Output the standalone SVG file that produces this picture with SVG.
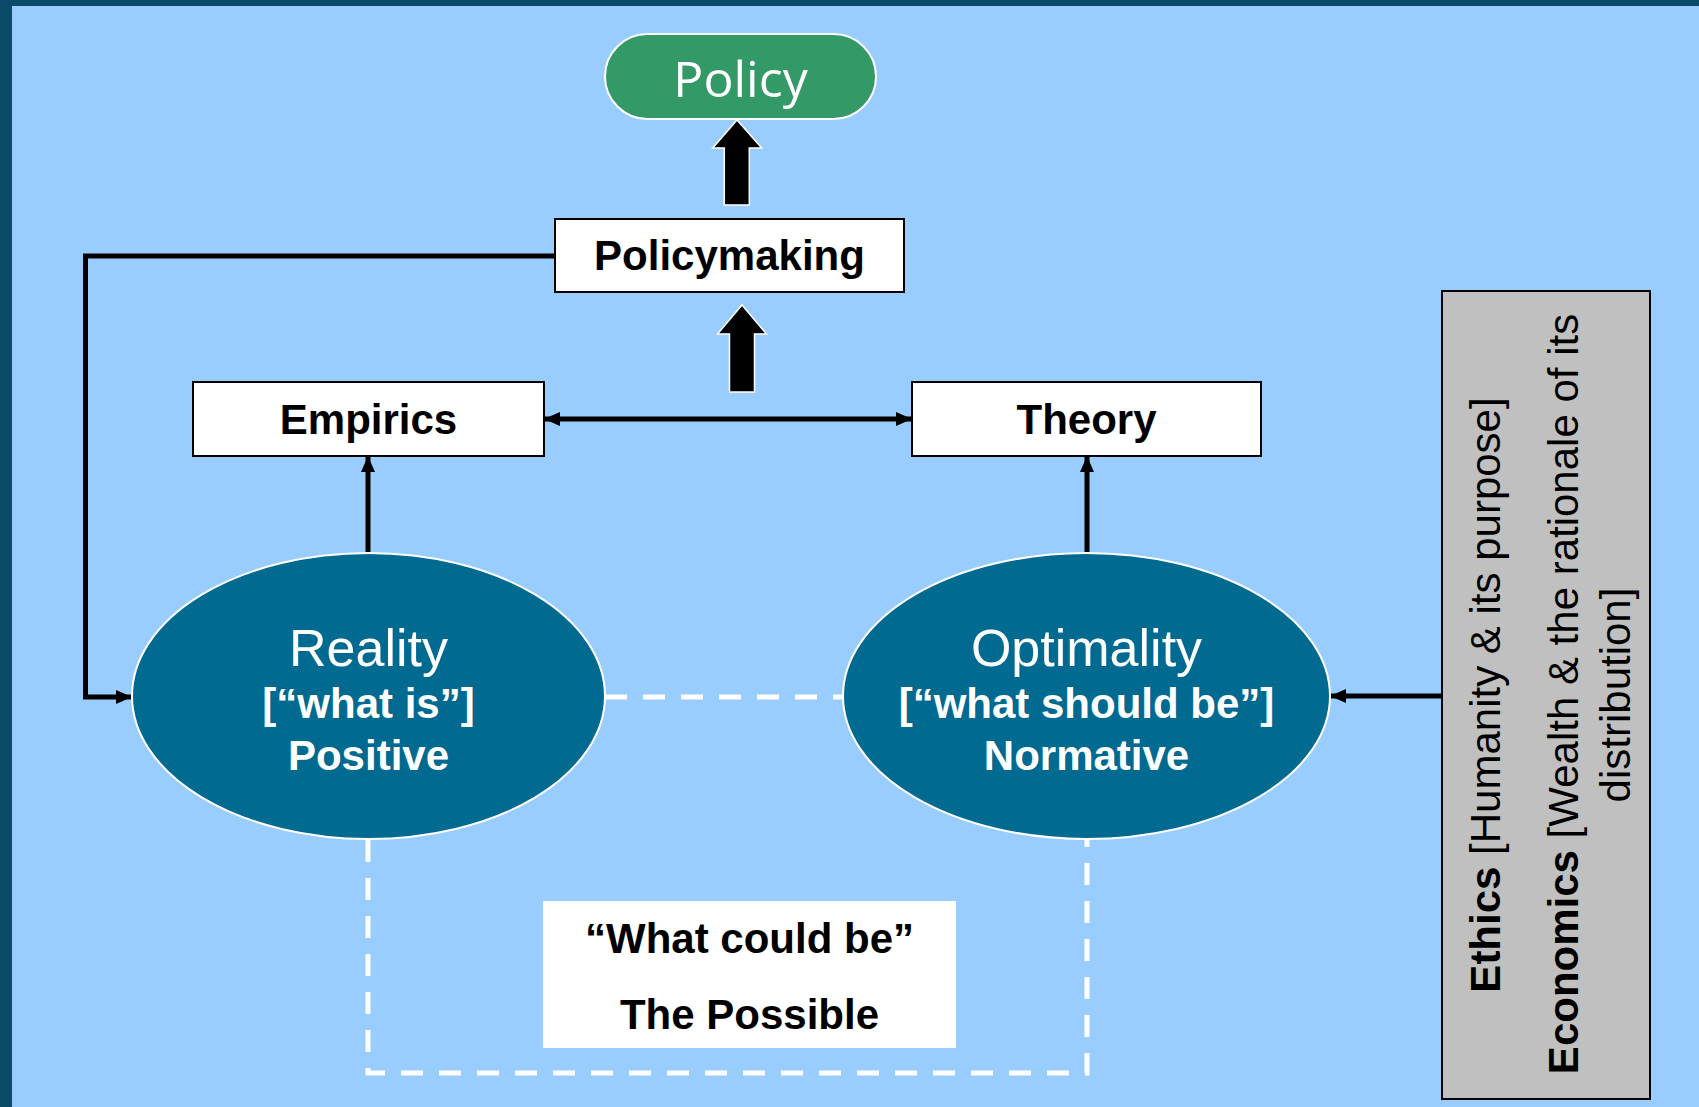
<svg xmlns="http://www.w3.org/2000/svg" width="1699" height="1107" viewBox="0 0 1699 1107">
<defs>
<style>
.txt{font-family:"Liberation Sans",Arial,Helvetica,sans-serif;}
.b{font-weight:bold;}
.box{fill:#FFFFFF;stroke:#000000;stroke-width:2;}
.ell{fill:#006A91;stroke:#FFFFFF;stroke-width:2;}
.conn{fill:none;stroke:#000000;stroke-width:5;}
.dash{fill:none;stroke:#FFFFFF;stroke-width:5;stroke-dasharray:22 16;}
.big{fill:#000000;stroke:#FFFFFF;stroke-width:1.5;}
.lbl{font-size:42px;font-weight:bold;fill:#000000;text-anchor:middle;}
.wl{fill:#FFFFFF;text-anchor:middle;}
</style>
<marker id="ah" viewBox="0 0 16 14" refX="15" refY="7" markerWidth="16" markerHeight="14" markerUnits="userSpaceOnUse" orient="auto-start-reverse">
<path d="M0,0 L16,7 L0,14 Z" fill="#000000"/>
</marker>
</defs>

<rect x="0" y="0" width="1699" height="1107" fill="#0B4B69"/>
<rect x="12" y="6" width="1687" height="1101" fill="#99CCFF"/>

<g id="connectors">
<path class="dash" d="M605,697 H843"/>
<path class="dash" d="M368,840 V1073 H1087 V840"/>
<path class="conn" d="M555,256 H85.5 V697 H131" marker-end="url(#ah)"/>
<path class="conn" d="M368,553 V457" marker-end="url(#ah)"/>
<path class="conn" d="M1087,553 V457" marker-end="url(#ah)"/>
<path class="conn" d="M545,419 H911" marker-start="url(#ah)" marker-end="url(#ah)"/>
<path class="conn" d="M1442,696 H1331" marker-end="url(#ah)"/>
<path class="big" d="M724.3,205 V148 H712.7 L737,120 L761.7,148 H749.3 V205 Z"/>
<path class="big" d="M729.5,392 V334 H717.5 L742,305 L766.5,334 H754.5 V392 Z"/>
</g>

<g id="policy">
<rect x="605" y="34" width="271" height="85" rx="42.5" ry="42.5" fill="#339966" stroke="#FFFFFF" stroke-width="2"/>
<text x="740.5" y="97" font-family="'Open Sans','Noto Sans',sans-serif" font-size="50" fill="#FFFFFF" text-anchor="middle">Policy</text>
</g>

<g id="policymaking">
<rect class="box" x="555" y="219" width="349" height="73"/>
<text class="txt lbl" x="729.5" y="270">Policymaking</text>
</g>

<g id="empirics">
<rect class="box" x="193" y="382" width="351" height="74"/>
<text class="txt lbl" x="368.5" y="434">Empirics</text>
</g>

<g id="theory">
<rect class="box" x="912" y="382" width="349" height="74"/>
<text class="txt lbl" x="1086.5" y="434">Theory</text>
</g>

<g id="reality">
<ellipse class="ell" cx="368.5" cy="696" rx="236.5" ry="143"/>
<text class="txt wl" x="368.5" y="666" font-size="52">Reality</text>
<text class="txt wl b" x="368.5" y="718" font-size="42">[“what is”]</text>
<text class="txt wl b" x="368.5" y="770" font-size="42">Positive</text>
</g>

<g id="optimality">
<ellipse class="ell" cx="1086.5" cy="696" rx="243.5" ry="143"/>
<text class="txt wl" x="1086.5" y="666" font-size="52">Optimality</text>
<text class="txt wl b" x="1086.5" y="718" font-size="42">[“what should be”]</text>
<text class="txt wl b" x="1086.5" y="770" font-size="42">Normative</text>
</g>

<g id="possible">
<rect x="543" y="901" width="413" height="147" fill="#FFFFFF"/>
<text class="txt lbl" x="749.5" y="953">“What could be”</text>
<text class="txt lbl" x="749.5" y="1029">The Possible</text>
</g>

<g id="ethics-economics">
<rect x="1442" y="291" width="208" height="808" fill="#C0C0C0" stroke="#000000" stroke-width="2"/>
<text class="txt" font-size="42" fill="#000000" text-anchor="middle" transform="translate(1500,695) rotate(-90)"><tspan font-weight="bold">Ethics</tspan> [Humanity &amp; its purpose]</text>
<text class="txt" font-size="42" fill="#000000" text-anchor="middle" transform="translate(1578,694) rotate(-90)"><tspan font-weight="bold">Economics</tspan> [Wealth &amp; the rationale of its</text>
<text class="txt" font-size="42" fill="#000000" text-anchor="middle" transform="translate(1630,695) rotate(-90)">distribution]</text>
</g>
</svg>
